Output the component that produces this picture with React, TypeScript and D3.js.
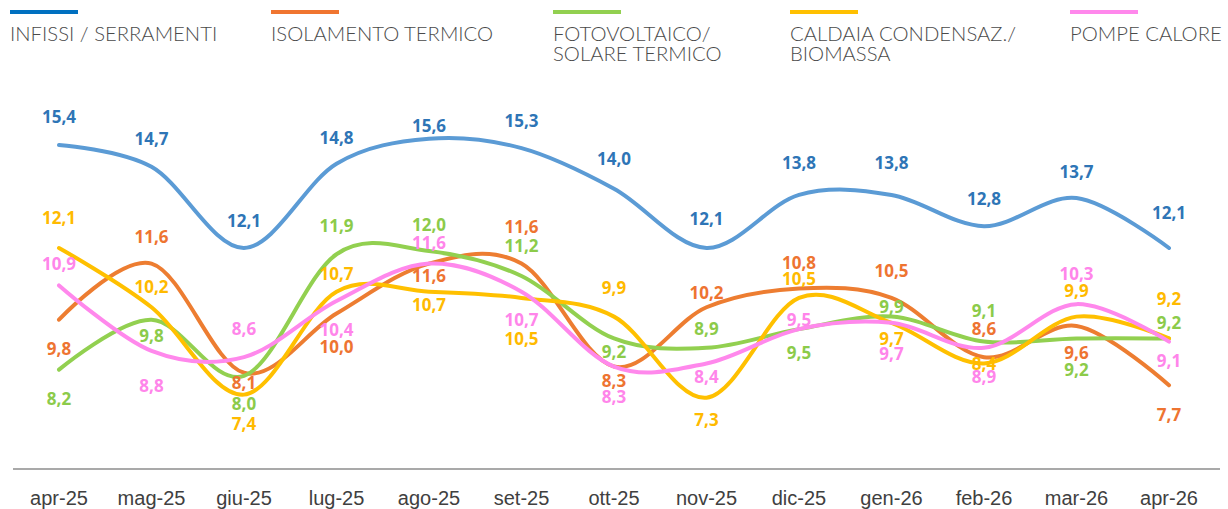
import React from "react";
import * as d3 from "d3";

const months = ["apr-25","mag-25","giu-25","lug-25","ago-25","set-25","ott-25","nov-25","dic-25","gen-26","feb-26","mar-26","apr-26"];

const infissi = [15.4,14.7,12.1,14.8,15.6,15.3,14.0,12.1,13.8,13.8,12.8,13.7,12.1];
const isolamento = [9.8,11.6,8.1,10.0,11.6,11.6,8.3,10.2,10.8,10.5,8.6,9.6,7.7];
const fotovoltaico = [8.2,9.8,8.0,11.9,12.0,11.2,9.2,8.9,9.5,9.9,9.1,9.2,9.2];
const caldaia = [12.1,10.2,7.4,10.7,10.7,10.5,9.9,7.3,10.5,9.7,8.4,9.9,9.2];
const pompe = [10.9,8.8,8.6,10.4,11.6,10.7,8.3,8.4,9.5,9.7,8.9,10.3,9.1];

// label vertical offsets (px, relative to the point)
const infissiLabelDy = [-28,-28,-27,-26,-13,-27,-30,-29,-32,-32,-27,-26,-35];
const isolamentoLabelDy = [29,-27,10,33,12,-37,14,-14,-26,-27,-28,27,30];
const fotovoltaicoLabelDy = [29,16,28,-28,-26,-30,13,-19,24,-10,-31,31,-16];
const caldaiaLabelDy = [-30,-20,29,-18,13,41,-29,22,-19,16,0,-26,-40];
const pompeLabelDy = [-22,35,-28,29,-21,28,30,13,-9,31,29,-30,19];

const series = [
  { name: ["INFISSI / SERRAMENTI"], values: infissi, dy: infissiLabelDy, line: "#5B9BD5", label: "#2E75B6", legend: "#0070C0", lx: 10 },
  { name: ["ISOLAMENTO TERMICO"], values: isolamento, dy: isolamentoLabelDy, line: "#ED7D31", label: "#EE7431", legend: "#F07530", lx: 271 },
  { name: ["FOTOVOLTAICO/", "SOLARE TERMICO"], values: fotovoltaico, dy: fotovoltaicoLabelDy, line: "#92D050", label: "#8CCB4A", legend: "#92D050", lx: 553 },
  { name: ["CALDAIA CONDENSAZ./", "BIOMASSA"], values: caldaia, dy: caldaiaLabelDy, line: "#FFC000", label: "#FFBA00", legend: "#FFC000", lx: 790 },
  { name: ["POMPE CALORE"], values: pompe, dy: pompeLabelDy, line: "#FF88EC", label: "#FF85EA", legend: "#FF88EC", lx: 1070 },
];

const W = 1228;
const H = 509;

export default function App() {
  const x = d3.scalePoint<string>().domain(months).range([59, 1169]);
  const y = d3.scaleLinear().domain([5, 16]).range([469.5, 126.3]);
  const line = d3
    .line<number>()
    .x((_, i) => x(months[i]) as number)
    .y((d) => y(d))
    .curve(d3.curveCardinal.tension(0));
  const fmt = (v: number) => v.toFixed(1).replace(".", ",");

  return (
    <svg
      width={W}
      height={H}
      style={{ position: "fixed", left: 0, top: 0, background: "#fff" }}
    >
      {/* legend */}
      {series.map((s, si) => (
        <g key={"lg" + si}>
          <rect x={s.lx} y={10} width={68} height={4} fill={s.legend} />
          {s.name.map((t, li) => (
            <text
              key={li}
              x={s.lx}
              y={41 + li * 20}
              fontFamily="Lato, 'Open Sans', sans-serif"
              fontWeight={300}
              fontSize={20.3}
              fill="#4a4a4a"
            >
              {t}
            </text>
          ))}
        </g>
      ))}

      {/* axis */}
      <line x1={13} x2={1220} y1={y(5) - 0.5} y2={y(5) - 0.5} stroke="#8c8c8c" strokeWidth={1.5} />
      {months.map((m) => (
        <text
          key={m}
          x={x(m)}
          y={505}
          textAnchor="middle"
          fontFamily="'Liberation Sans', Arial, sans-serif"
          fontSize={20}
          fill="#404040"
        >
          {m}
        </text>
      ))}

      {/* lines */}
      {series.map((s, si) => (
        <path
          key={"ln" + si}
          d={line(s.values) || ""}
          fill="none"
          stroke={s.line}
          strokeWidth={4}
          strokeLinecap="round"
        />
      ))}

      {/* labels */}
      {series.map((s, si) => (
        <g key={"lb" + si}>
          {s.values.map((v, i) => (
            <text
              key={i}
              x={x(months[i])}
              y={y(v) + s.dy[i]}
              dy="0.36em"
              textAnchor="middle"
              fontFamily="'Open Sans', sans-serif"
              fontWeight={700}
              fontSize={17}
              fill={s.label}
            >
              {fmt(v)}
            </text>
          ))}
        </g>
      ))}
    </svg>
  );
}
